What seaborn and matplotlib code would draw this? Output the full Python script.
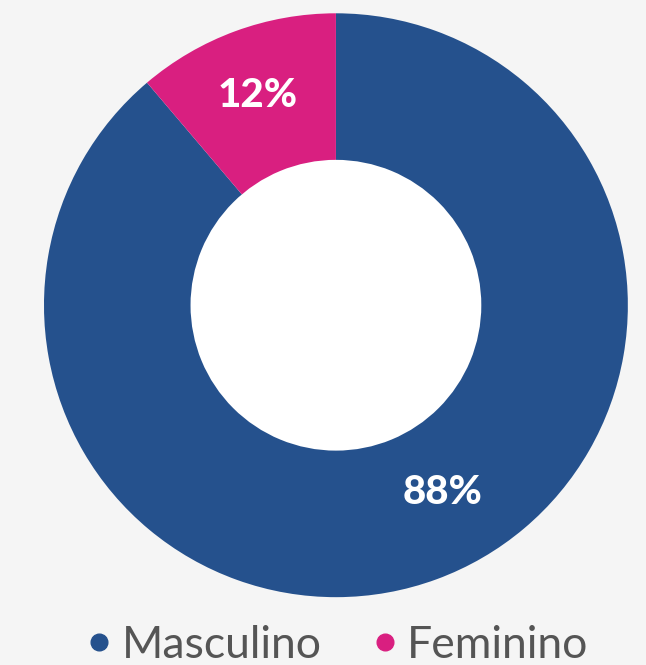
import matplotlib
matplotlib.use("Agg")
import matplotlib.pyplot as plt
from matplotlib.lines import Line2D
import seaborn as sns

categories = ["Masculino", "Feminino"]
values = [88.8, 11.2]          # slice sizes
pct_labels = ["88%", "12%"]    # labels as printed
colors = sns.color_palette(["#25518d", "#d91f80"])

sns.set_theme(style="white")
plt.rcParams["font.family"] = ["Lato", "DejaVu Sans"]

bg = "#f5f5f5"
fig = plt.figure(figsize=(6.46, 6.65), dpi=100, facecolor=bg)
ax = fig.add_axes([0.068, 0.102, 0.904, 0.878])
ax.set_facecolor(bg)

ax.pie(values, colors=colors, startangle=90, counterclock=False,
       radius=1.0, wedgeprops=dict(linewidth=0))
# white hole of the donut
ax.pie([1], colors=["white"], radius=0.498, wedgeprops=dict(linewidth=0))
ax.set_xlim(-1, 1)
ax.set_ylim(-1, 1)
ax.set_aspect("equal")
ax.axis("off")

label_pos = [(0.366, -0.643), (-0.267, 0.717)]
for lab, (x, y) in zip(pct_labels, label_pos):
    ax.text(x, y, lab, ha="center", va="center", color="white",
            fontsize=29, fontweight="black")

handles = [Line2D([0], [0], marker="o", linestyle="", markersize=12,
                  markerfacecolor=c, markeredgecolor=c) for c in colors]
fig.legend(handles, categories, loc="center", bbox_to_anchor=(0.52, 0.03),
           ncol=2, frameon=False, fontsize=32, labelcolor="#555555",
           handletextpad=0.16, columnspacing=1.07, handlelength=0.7)

fig.savefig("out.png", dpi=100, facecolor=bg)
